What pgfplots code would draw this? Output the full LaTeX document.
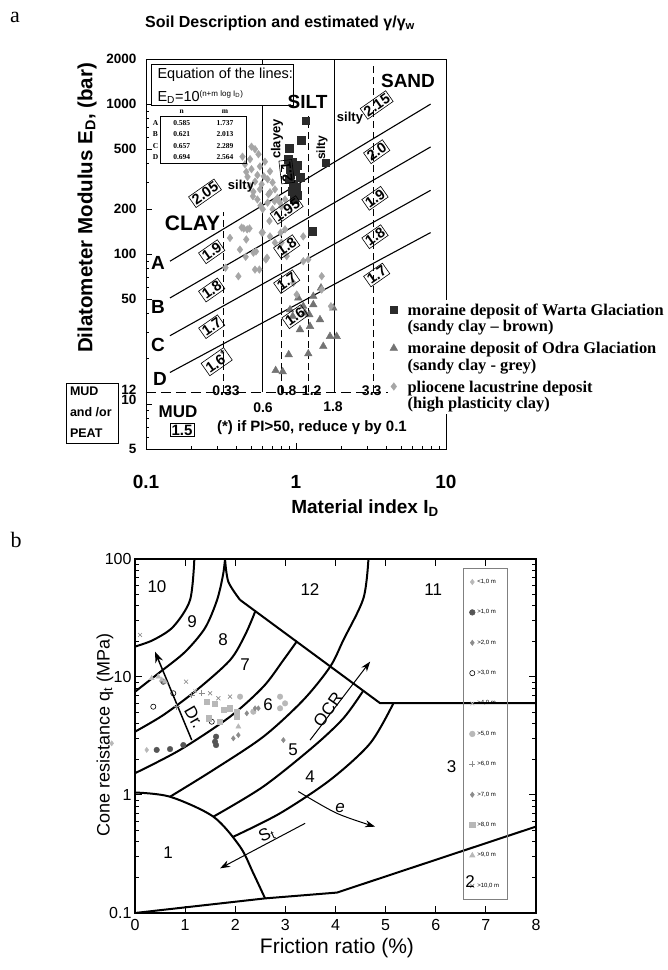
\documentclass[border=0pt]{standalone}
\usepackage{fontspec}
\setmainfont{Liberation Sans}
\newfontfamily\timesfont[Ligatures=TeX]{Liberation Serif}
\usepackage{pgfplots}
\pgfplotsset{compat=1.18}
\usetikzlibrary{arrows.meta}
\newcommand{\fs}[1]{\fontsize{#1}{#1}\selectfont}
\definecolor{sq}{HTML}{2B2B2B}
\definecolor{tri}{HTML}{737373}
\definecolor{dia}{HTML}{A6A6A6}
\definecolor{lg}{HTML}{B8B8B8}
\definecolor{dg}{HTML}{555555}
\definecolor{mg}{HTML}{8C8C8C}
\tikzset{gl/.style={draw, line width=0.6pt, inner sep=1.4pt, font=\fs{14.5}\bfseries, rotate=35}}
\pgfplotsset{bd/.style={black, line width=2pt, forget plot}}
\begin{document}
\begin{tikzpicture}[x=1pt,y=1pt]
\useasboundingbox (0,0) rectangle (668,970);
% ================= panel a =================
\begin{axis}[at={(146pt,521pt)}, anchor=south west, scale only axis, width=300pt, height=390pt,
 xmode=log, ymode=log, xmin=0.1, xmax=10, ymin=5, ymax=2000,
 /pgf/number format/assume math mode=true,
 xtick={0.1,1,10}, xticklabels={0.1,1,10},
 ytick={5,10,12,50,100,200,500,1000,2000},
 yticklabels={5,\raisebox{9pt}{10},\raisebox{5pt}{12},50,100,200,500,1000,2000},
 minor xtick={0.2,0.3,0.4,0.5,0.6,0.7,0.8,0.9,2,3,4,5,6,7,8,9},
 minor ytick={6,7,8,9,20,30,40,60,70,80,90,300,400,600,700,800,900},
 tick pos=left, tick align=inside, major tick length=6pt, minor tick length=3.5pt,
 every tick/.style={black, line width=0.6pt},
 axis line style={line width=0.9pt},
 yticklabel style={font=\fs{13.5}\bfseries, xshift=-6pt},
 xticklabel style={font=\fs{19}\bfseries, yshift=-23pt},
 legend style={at={(0.806,0.383)}, anchor=north west, draw=none, fill=white,
   font=\timesfont\bfseries\fs{16.4}, cells={anchor=base west, align=left, inner sep=1pt},
   row sep=5pt, inner sep=2pt, column sep=8pt},
 legend image post style={yshift=22pt},
]
% lines A-D
\addplot[black, line width=1.1pt, forget plot] coordinates {(0.1445,89.5) (7.9,1000)};
\addplot[black, line width=1.1pt, forget plot] coordinates {(0.1445,50.9) (7.9,518)};
\addplot[black, line width=1.1pt, forget plot] coordinates {(0.1445,28.5) (7.9,266)};
\addplot[black, line width=1.1pt, forget plot] coordinates {(0.1445,16.2) (7.9,139)};
% boundaries
\addplot[black, line width=1pt, forget plot] coordinates {(0.6,12) (0.6,2000)};
\addplot[black, line width=1pt, forget plot] coordinates {(1.8,12) (1.8,2000)};
\addplot[black, line width=0.7pt, dash pattern=on 7pt off 4pt, forget plot] coordinates {(0.33,12) (0.33,190)};
\addplot[black, line width=0.7pt, dash pattern=on 7pt off 4pt, forget plot] coordinates {(0.8,12) (0.8,400)};
\addplot[black, line width=0.7pt, dash pattern=on 7pt off 4pt, forget plot] coordinates {(1.2,12) (1.2,830)};
\addplot[black, line width=0.7pt, dash pattern=on 7pt off 4pt, forget plot] coordinates {(3.3,12) (3.3,1900)};
\addplot[black, line width=0.7pt, dash pattern=on 10pt off 5pt, forget plot] coordinates {(0.1,12) (10,12)};
% data
\addplot[only marks, mark=square*, mark size=3.8pt, color=sq] coordinates {
(1.16,773) (1.08,577) (0.898,508) (0.884,429) (0.94,409) (1.015,391) (0.912,367)
(0.985,356) (0.898,315) (0.94,262) (1.015,246) (0.97,232) (1.284,142) (1.58,407)
(0.955,291) (1.063,325) (0.92,340) (1.0,280)};
\addlegendentry{moraine deposit of Warta Glaciation\\(sandy clay – brown)}
\addplot[only marks, mark=triangle*, mark size=4.4pt, color=tri] coordinates {
(1.468,59.4) (1.304,52.2) (1.036,50.9) (0.912,42.5) (1.118,44.8) (1.304,45.9)
(1.773,43.6) (1.227,39.4) (1.685,28.2) (1.867,28.2) (1.52,24.2) (1.208,21.6)
(0.894,21.3) (0.732,16.7) (0.815,16.4) (1.063,31.3) (1.445,36.5) (0.951,38.4)
(1.148,40.4) (1.24,32.9)};
\addlegendentry{moraine deposit of Odra Glaciation\\(sandy clay - grey)}
\addplot[only marks, mark=diamond*, mark size=3.8pt, color=dia] coordinates {
(0.533,500) (0.494,429) (0.575,384) (0.466,353) (0.553,336) (0.647,315) (0.698,300)
(0.494,283) (0.575,270) (0.671,258) (0.752,237) (0.553,231) (0.647,220) (0.782,220)
(0.6,199) (0.698,199) (0.516,243) (0.59,292) (0.505,368) (0.621,413) (0.457,397)
(0.562,463) (0.671,356) (0.724,270) (0.655,250) (0.533,304) (0.475,327) (0.845,231)
(0.80,207) (0.44,446) (0.505,520) (0.61,330) (0.52,260) (0.72,225) (0.58,210)
(0.434,150) (0.473,146) (0.363,128) (0.591,139) (0.671,131) (0.52,102) (0.845,146)
(1.118,131) (0.423,107) (0.339,81) (0.413,71) (0.533,78.7) (0.641,94.4) (0.867,96.7)
(1.118,89.5) (1.484,71.1) (0.466,125) (0.724,119) (0.96,64.2) (1.011,53.6) (1.71,44.8)
(1.484,57.9) (0.448,148) (0.49,148) (0.462,95.7) (0.57,78.7) (0.63,91.9) (0.541,104)
(0.6,139) (0.665,166) (0.79,139) (1.208,91.9) (0.8,119)};
\addlegendentry{pliocene lacustrine deposit\\(high plasticity clay)}
\end{axis}
% panel a text
\node[font=\timesfont\fs{22}] at (15,953) {a};
\node[font=\fs{16}\bfseries] at (280,947) {Soil Description and estimated γ/γ\textsubscript{w}};
\node[font=\fs{20.5}\bfseries, rotate=90] at (87,762) {Dilatometer Modulus E\textsubscript{D}, (bar)};
\node[font=\fs{19}\bfseries] at (365,462) {Material index I\textsubscript{D}};
% equation box
\draw[line width=0.8pt, fill=white] (151.7,865) rectangle (293.3,905.7);
\node[font=\fs{14.5}, anchor=west] at (154,895) {Equation of the lines:};
\node[font=\fs{14.5}, anchor=west] at (154,873) {E\textsubscript{D}=10\textsuperscript{\fs{8}(n+m log I\textsubscript{D})}};
\draw[line width=0.6pt] (160,806.7) rectangle (246.7,853.3);
\begin{scope}[font=\timesfont\bfseries\fs{7.5}]
\node at (181.7,858.5) {n}; \node at (225,858.5) {m};
\node at (155.5,847) {A}; \node at (181.7,847) {0.585}; \node at (225,847) {1.737};
\node at (155.5,835.5) {B}; \node at (181.7,835.5) {0.621}; \node at (225,835.5) {2.013};
\node at (155.5,824) {C}; \node at (181.7,824) {0.657}; \node at (225,824) {2.289};
\node at (155.5,812.5) {D}; \node at (181.7,812.5) {0.694}; \node at (225,812.5) {2.564};
\end{scope}
% zone names
\node[font=\fs{21}\bfseries] at (192.5,747) {CLAY};
\node[font=\fs{19}\bfseries] at (307.5,868) {SILT};
\node[font=\fs{19}\bfseries] at (408,889) {SAND};
\node[font=\fs{13}\bfseries, rotate=90] at (277,831) {clayey};
\node[font=\fs{12}\bfseries, rotate=90] at (322,822) {silty};
\node[font=\fs{13}\bfseries] at (241,784) {silty};
\node[font=\fs{13}\bfseries] at (350,852) {silty};
\node[font=\fs{19}\bfseries] at (158,707) {A};
\node[font=\fs{19}\bfseries] at (158,663) {B};
\node[font=\fs{19}\bfseries] at (158,625) {C};
\node[font=\fs{19}\bfseries] at (160,591) {D};
% gamma labels
\node[gl] at (205,776.7) {2.05};
\node[gl, rotate=62] at (286.7,798.3) {2.1};
\node[gl] at (286.7,760) {1.95};
\node[gl] at (211.7,718.3) {1.9};
\node[gl] at (286.7,723.3) {1.8};
\node[gl] at (211.7,680) {1.8};
\node[gl] at (286.7,688.3) {1.7};
\node[gl] at (211.7,643.3) {1.7};
\node[gl] at (295,653.3) {1.6};
\node[gl] at (216.7,608.3) {1.6\textsuperscript{*}};
\node[gl] at (376.7,865) {2.15};
\node[gl] at (376.7,818.3) {2.0};
\node[gl] at (375,771.7) {1.9};
\node[gl] at (375,733.3) {1.8};
\node[gl] at (376.7,695) {1.7};
% bottom labels
\begin{scope}[font=\fs{14}\bfseries]
\node[anchor=base] at (226,574.5) {0.33};
\node[anchor=base] at (286.7,574.5) {0.8};
\node[anchor=base] at (311.7,574.5) {1.2};
\node[anchor=base] at (371.7,574.5) {3.3};
\node at (263,562) {0.6};
\node at (333,563) {1.8};
\end{scope}
\node[font=\fs{17}\bfseries] at (178,558) {MUD};
\node[draw, line width=0.6pt, inner sep=1.5pt, font=\fs{15}\bfseries] at (182,540) {1.5};
\node[font=\fs{15}\bfseries] at (312,542) {(*) if PI\textgreater50, reduce γ by 0.1};
\draw[line width=0.6pt] (66,527) rectangle (118,587);
\begin{scope}[font=\fs{12.5}\bfseries]
\node[anchor=base west] at (66.5,574) {MUD};
\node[anchor=base west] at (66.5,553) {and /or};
\node[anchor=base west] at (66.5,532) {PEAT};
\end{scope}
% ================= panel b =================
\begin{axis}[at={(135pt,57pt)}, anchor=south west, scale only axis, width=401pt, height=354pt,
 xmin=0, xmax=8, ymode=log, ymin=0.1, ymax=100,
 /pgf/number format/assume math mode=true,
 xtick={0,1,2,3,4,5,6,7,8}, xticklabels={0,1,2,3,4,5,6,7,8},
 ytick={0.1,1,10,100}, yticklabels={0.1,1,10,100},
 minor ytick={0.2,0.3,0.4,0.5,0.6,0.7,0.8,0.9,2,3,4,5,6,7,8,9,20,30,40,50,60,70,80,90},
 tick align=inside, major tick length=7pt, minor tick length=4pt,
 every tick/.style={black, line width=1pt},
 axis line style={line width=1.6pt},
 ticklabel style={font=\fs{16}},
 xticklabel style={yshift=-3pt},
 clip=false,
 legend style={at={(0.818,0.975)}, anchor=north west, draw=gray, fill=none, line width=0.6pt,
   font=\fs{6}, row sep=20.7pt, inner ysep=9pt, inner xsep=6pt},
 legend cell align=left,
]
% boundaries
\addplot[bd, smooth, tension=0.5] coordinates {(1.184,100) (1.098,44.9) (0.764,26.7) (0.365,20.6) (0,18.1)};
\addplot[bd, smooth, tension=0.5] coordinates {(1.796,100) (1.756,73.2) (1.637,44.9) (1.397,26.0) (0.998,16.3) (0.499,11.0) (0,7.5)};
\addplot[bd, smooth, tension=0.5] coordinates {(0,3.44) (0.565,4.76) (1.232,7.76) (1.896,13.9) (2.196,22.7) (2.395,35.6)};
\addplot[bd, smooth, tension=0.5] coordinates {(0,1.53) (0.898,2.41) (1.896,4.61) (2.561,8.28) (2.96,13.9) (3.234,20.2)};
\addplot[bd, smooth, tension=0.5] coordinates {(0.699,0.967) (1.563,1.63) (2.561,3.12) (3.359,6.39) (3.892,12.2) (4.158,20.6) (4.557,46.4) (4.657,100)};
\addplot[bd, smooth, tension=0.5] coordinates {(1.563,0.655) (2.561,1.18) (3.559,2.57) (4.158,4.47) (4.551,7.61)};
\addplot[bd, smooth, tension=0.5] coordinates {(1.962,0.443) (2.894,0.70) (3.892,1.34) (4.691,2.74) (5.156,6.0)};
\addplot[bd, smooth, tension=0.5] coordinates {(0,1.05) (0.699,0.967) (1.563,0.655) (2.096,0.365) (2.361,0.217) (2.595,0.133)};
\addplot[bd, smooth, tension=0.5] coordinates {(1.796,100) (1.862,64.2) (2.096,45)};
\addplot[bd] coordinates {(2.096,45) (4.89,6.0) (8,6.0)};
\addplot[bd] coordinates {(0,0.1) (2.595,0.133) (4.03,0.149) (8,0.54)};
% arrows
\addplot[black, line width=1.5pt, -{Stealth[length=11pt,width=8pt]}, forget plot] coordinates {(1.132,2.92) (0.399,16.4)};
\addplot[black, line width=1pt, -{Stealth[length=10pt,width=7pt]}, forget plot] coordinates {(3.493,2.92) (4.691,13.5)};
\addplot[black, line width=1pt, smooth, -{Stealth[length=10pt,width=7pt]}, forget plot] coordinates {(3.259,1.07) (4.026,0.70) (4.79,0.539)};
\addplot[black, line width=1pt, -{Stealth[length=10pt,width=7pt]}, forget plot] coordinates {(3.393,0.575) (1.697,0.239)};
% data
\addplot[only marks, mark=diamond*, mark size=2.6pt, color=lg] coordinates {(-0.465,2.74) (0.234,2.41)};
\addlegendentry{\textless1,0 m}
\addplot[only marks, mark=*, mark size=2.8pt, color=dg] coordinates {(0.565,9.12) (0.433,2.41) (0.699,2.45) (0.964,2.65) (1.597,2.83) (1.617,3.12) (1.617,2.65)};
\addlegendentry{\textgreater1,0 m}
\addplot[only marks, mark=diamond*, mark size=2.6pt, color=mg] coordinates {(2.062,3.22) (1.962,3.02) (2.96,2.92)};
\addlegendentry{\textgreater2,0 m}
\addplot[only marks, mark=o, mark size=2.6pt, color=black, line width=0.6pt] coordinates {(0.365,5.6) (0.764,7.28) (1.531,4.18)};
\addlegendentry{\textgreater3,0 m}
\addplot[only marks, mark=x, mark size=2.6pt, color=lg, line width=0.7pt] coordinates {(1.2,7.6)};
\addlegendentry{\textgreater4,0 m}
\addplot[only marks, mark=*, mark size=2.8pt, color=lg] coordinates {(2.096,6.81) (2.894,6.81) (2.994,5.98) (2.894,5.43) (2.361,5.08)};
\addlegendentry{\textgreater5,0 m}
\addplot[only marks, mark=+, mark size=3pt, color=mg, line width=0.7pt] coordinates {(1.132,7.04) (1.331,7.28) (0.832,5.6)};
\addlegendentry{\textgreater6,0 m}
\addplot[only marks, mark=diamond*, mark size=2.6pt, color=mg] coordinates {(2.23,4.92) (2.395,5.43) (2.461,5.43)};
\addlegendentry{\textgreater7,0 m}
\addplot[only marks, mark=square*, mark size=2.6pt, color=lg] coordinates {(1.431,6.18) (1.597,5.98) (1.762,5.25) (1.896,5.43) (2.030,4.61) (1.463,4.47) (1.697,4.18) (2.03,5.08)};
\addlegendentry{\textgreater8,0 m}
\addplot[only marks, mark=triangle*, mark size=3pt, color=lg] coordinates {(0.333,9.75) (0.465,10.06) (0.533,9.44) (0.599,9.12) (2.062,3.79)};
\addlegendentry{\textgreater9,0 m}
\addplot[only marks, mark=x, mark size=2.8pt, color=mg, line width=0.7pt] coordinates {(0.10,22.7) (1.018,9.12) (1.663,6.60) (1.896,6.81) (1.497,7.28)};
\addlegendentry{\textgreater10,0 m}
\end{axis}
% panel b text
\node[font=\timesfont\fs{22}] at (16,430) {b};
\node[font=\fs{18}, rotate=90] at (105,235) {Cone resistance q\textsubscript{t} (MPa)};
\node[font=\fs{21}] at (337,22) {Friction ratio (\%)};
\begin{scope}[font=\fs{17}]
\node at (157,383) {10};
\node at (192,348) {9};
\node at (223,330) {8};
\node at (245,305) {7};
\node at (268,265) {6};
\node at (293,220) {5};
\node at (310,193) {4};
\node at (451.7,203.3) {3};
\node at (168,117) {1};
\node at (470,88) {2};
\node at (310,380) {12};
\node at (433.3,380) {11};
\node[rotate=-60] at (194,253) {Dr.};
\node[rotate=55] at (328,260) {OCR};
\node at (340,162) {\textit{e}};
\node[rotate=25] at (266.7,135) {S\textsubscript{t}};
\end{scope}
\end{tikzpicture}
\end{document}
